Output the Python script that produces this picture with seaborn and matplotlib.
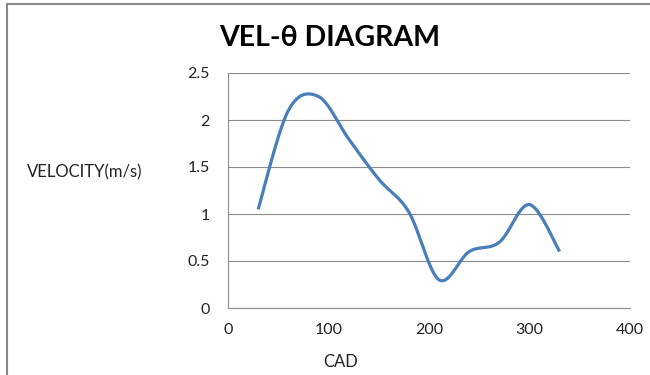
import numpy as np
import pandas as pd
import matplotlib
matplotlib.use("Agg")
import matplotlib.pyplot as plt
import seaborn as sns
from matplotlib.patches import Rectangle

# data
cad = [30, 60, 90, 120, 150, 180, 210, 240, 270, 300, 330]
velocity = [1.05, 2.1, 2.25, 1.8, 1.37, 1.02, 0.3, 0.6, 0.7, 1.1, 0.6]
x_ticks = [0, 100, 200, 300, 400]
y_ticks = [0, 0.5, 1, 1.5, 2, 2.5]
y_labels = ["0", "0.5", "1", "1.5", "2", "2.5"]

sns.set_theme(style="white")
plt.rcParams['font.family'] = ['Lato', 'DejaVu Sans']


def smooth(xs, ys, n=40):
    """Excel-like smoothed line (Catmull-Rom Bezier) through the data points."""
    p = np.column_stack([xs, ys]).astype(float)
    ext = np.vstack([p[0], p, p[-1]])
    out = []
    t = np.linspace(0, 1, n)[:, None]
    for i in range(1, len(ext) - 2):
        p0, p1, p2, p3 = ext[i - 1], ext[i], ext[i + 1], ext[i + 2]
        c1 = p1 + (p2 - p0) / 6
        c2 = p2 - (p3 - p1) / 6
        seg = ((1 - t) ** 3) * p1 + 3 * ((1 - t) ** 2) * t * c1 + 3 * (1 - t) * t ** 2 * c2 + t ** 3 * p2
        out.append(seg if i == 1 else seg[1:])
    s = np.vstack(out)
    return s[:, 0], s[:, 1]


sx, sy = smooth(cad, velocity)
df = pd.DataFrame({"CAD": sx, "VELOCITY": sy})

fig = plt.figure(figsize=(6.5, 3.75), dpi=100)
ax = fig.add_axes([228 / 650, 1 - 308 / 375, (630 - 228) / 650, (308 - 73) / 375])

sns.lineplot(data=df, x="CAD", y="VELOCITY", ax=ax, sort=False,
             color="#4A7EBB", linewidth=2.3, solid_capstyle="butt", estimator=None)

ax.set_xlim(0, 400)
ax.set_ylim(0, 2.5)
ax.set_xticks(x_ticks)
ax.set_yticks(y_ticks)
ax.set_yticklabels(y_labels)
ax.set_xlabel("")
ax.set_ylabel("")
ax.grid(axis="y", color="#8c8c8c", linewidth=0.8)
ax.grid(axis="x", visible=False)
for side in ["top", "right"]:
    ax.spines[side].set_visible(False)
for side in ["left", "bottom"]:
    ax.spines[side].set_color("#8c8c8c")
    ax.spines[side].set_linewidth(0.8)
ax.tick_params(axis="both", direction="out", length=4, width=0.8, color="#8c8c8c",
               labelsize=11.5, labelcolor="#222222")
ax.tick_params(axis="y", pad=9)
ax.tick_params(axis="x", pad=7)

fig.text(330 / 650, 1 - 38 / 375, "VEL-θ DIAGRAM", ha="center", va="center",
         fontsize=20.5, fontweight="bold", color="black")
fig.text(85 / 650, 1 - 172 / 375, "VELOCITY(m/s)", ha="center", va="center",
         fontsize=12, color="#222222")
fig.text(341 / 650, 1 - 362 / 375, "CAD", ha="center", va="center",
         fontsize=12, color="#222222")

fig.add_artist(Rectangle((6.5 / 650, -0.1), 1.2, 1 - 4.5 / 375 + 0.1, transform=fig.transFigure,
                         fill=False, edgecolor="#8a8a8a", linewidth=1.5))

fig.savefig("out.png", dpi=100)
